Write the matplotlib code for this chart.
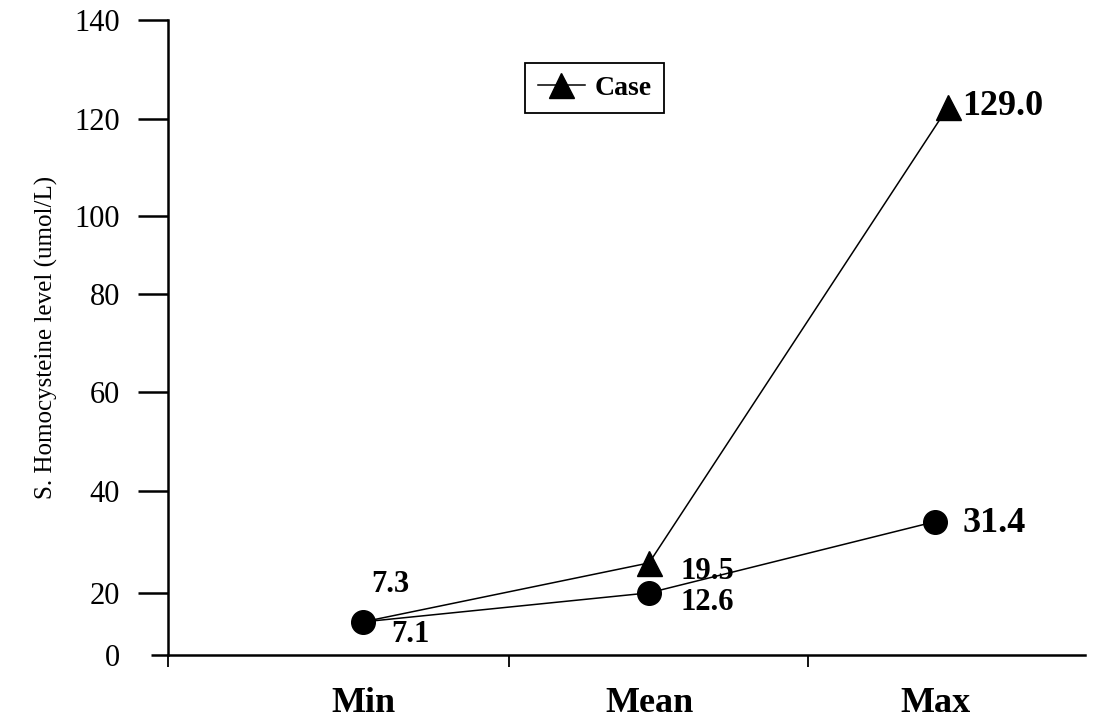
"""
Serum homocysteine level: min / mean / max, case vs control.
"""

import matplotlib
matplotlib.use('Agg')
import matplotlib.pyplot as plt
from matplotlib.ticker import NullFormatter

plt.rcParams['font.family'] = ['Liberation Serif', 'DejaVu Serif']

categories = ['Min', 'Mean', 'Max']
cat_pos = [0, 1, 2]

# plotted heights (y axis units)
case_x = [0, 1, 2.045]
case_y = [7.3, 20.3, 120.8]
control_x = [0, 1, 2]
control_y = [7.3, 13.7, 29.4]

# printed value labels
case_labels = ['7.3', '19.5', '129.0']
control_labels = ['7.1', '12.6', '31.4']

# y tick positions as drawn in the original (spacing is not even)
ytick_pos = [13.6, 36.2, 58.0, 79.6, 96.8, 118.2, 140]
ytick_labels = ['20', '40', '60', '80', '100', '120', '140']
xtick_bounds = [-0.682, 0.51, 1.556]

fig = plt.figure(figsize=(10.97, 7.21), dpi=100)
ax = fig.add_axes([168/1097, 66/721, 917/1097, 635/721])

# first triangle sits under the first circle, so it is not drawn
ax.plot(case_x, case_y, color='black', lw=1.1, marker='^', ms=18,
        markevery=[1, 2], label='Case', zorder=2)
ax.plot(control_x, control_y, color='black', lw=1.1, marker='o', ms=17,
        zorder=3)

ax.set_xlim(-0.682, 2.524)
ax.set_ylim(0, 140)

for side in ['top', 'right']:
    ax.spines[side].set_visible(False)
for side in ['left', 'bottom']:
    ax.spines[side].set_linewidth(1.8)

# y axis ticks
ax.set_yticks(ytick_pos)
ax.set_yticklabels(ytick_labels)
ax.set_yticks([0], minor=True)
ax.set_yticklabels(['0'], minor=True)
ax.tick_params(axis='y', which='major', length=21.6, width=1.8, pad=13,
               labelsize=22)
ax.tick_params(axis='y', which='minor', length=12.2, width=1.8, pad=22.4,
               labelsize=22)

# x axis: tick marks at boundaries, labels at category centres
ax.set_xticks(xtick_bounds)
ax.xaxis.set_major_formatter(NullFormatter())
ax.set_xticks(cat_pos, minor=True)
ax.set_xticklabels(categories, minor=True, fontweight='bold', fontsize=26)
ax.tick_params(axis='x', which='major', length=8.6, width=1.3)
ax.tick_params(axis='x', which='minor', length=0, pad=23)

ax.set_ylabel('S. Homocysteine level (umol/L)', fontsize=18, labelpad=12)

# value labels
small = dict(fontsize=22, fontweight='bold')
big = dict(fontsize=26, fontweight='bold')
ax.annotate(case_labels[0], (case_x[0], case_y[0]), xytext=(27, 37),
            textcoords='offset pixels', ha='center', va='center', **small)
ax.annotate(control_labels[0], (control_x[0], control_y[0]), xytext=(47, -13),
            textcoords='offset pixels', ha='center', va='center', **small)
ax.annotate(case_labels[1], (case_x[1], case_y[1]), xytext=(31, -9),
            textcoords='offset pixels', ha='left', va='center', **small)
ax.annotate(control_labels[1], (control_x[1], control_y[1]), xytext=(31, -10),
            textcoords='offset pixels', ha='left', va='center', **small)
ax.annotate(case_labels[2], (case_x[2], case_y[2]), xytext=(14, 1),
            textcoords='offset pixels', ha='left', va='center', **big)
ax.annotate(control_labels[2], (control_x[2], control_y[2]), xytext=(27, -2),
            textcoords='offset pixels', ha='left', va='center', **big)

leg = ax.legend(loc='upper left', bbox_to_anchor=(357/917, 592/635),
                prop={'weight': 'bold', 'size': 20}, frameon=True,
                fancybox=False, framealpha=1, edgecolor='black',
                handlelength=1.7, borderpad=0.45, handletextpad=0.35,
                borderaxespad=0, markerscale=1.0)
leg.get_frame().set_linewidth(1.3)

fig.savefig('out.png', dpi=100)
